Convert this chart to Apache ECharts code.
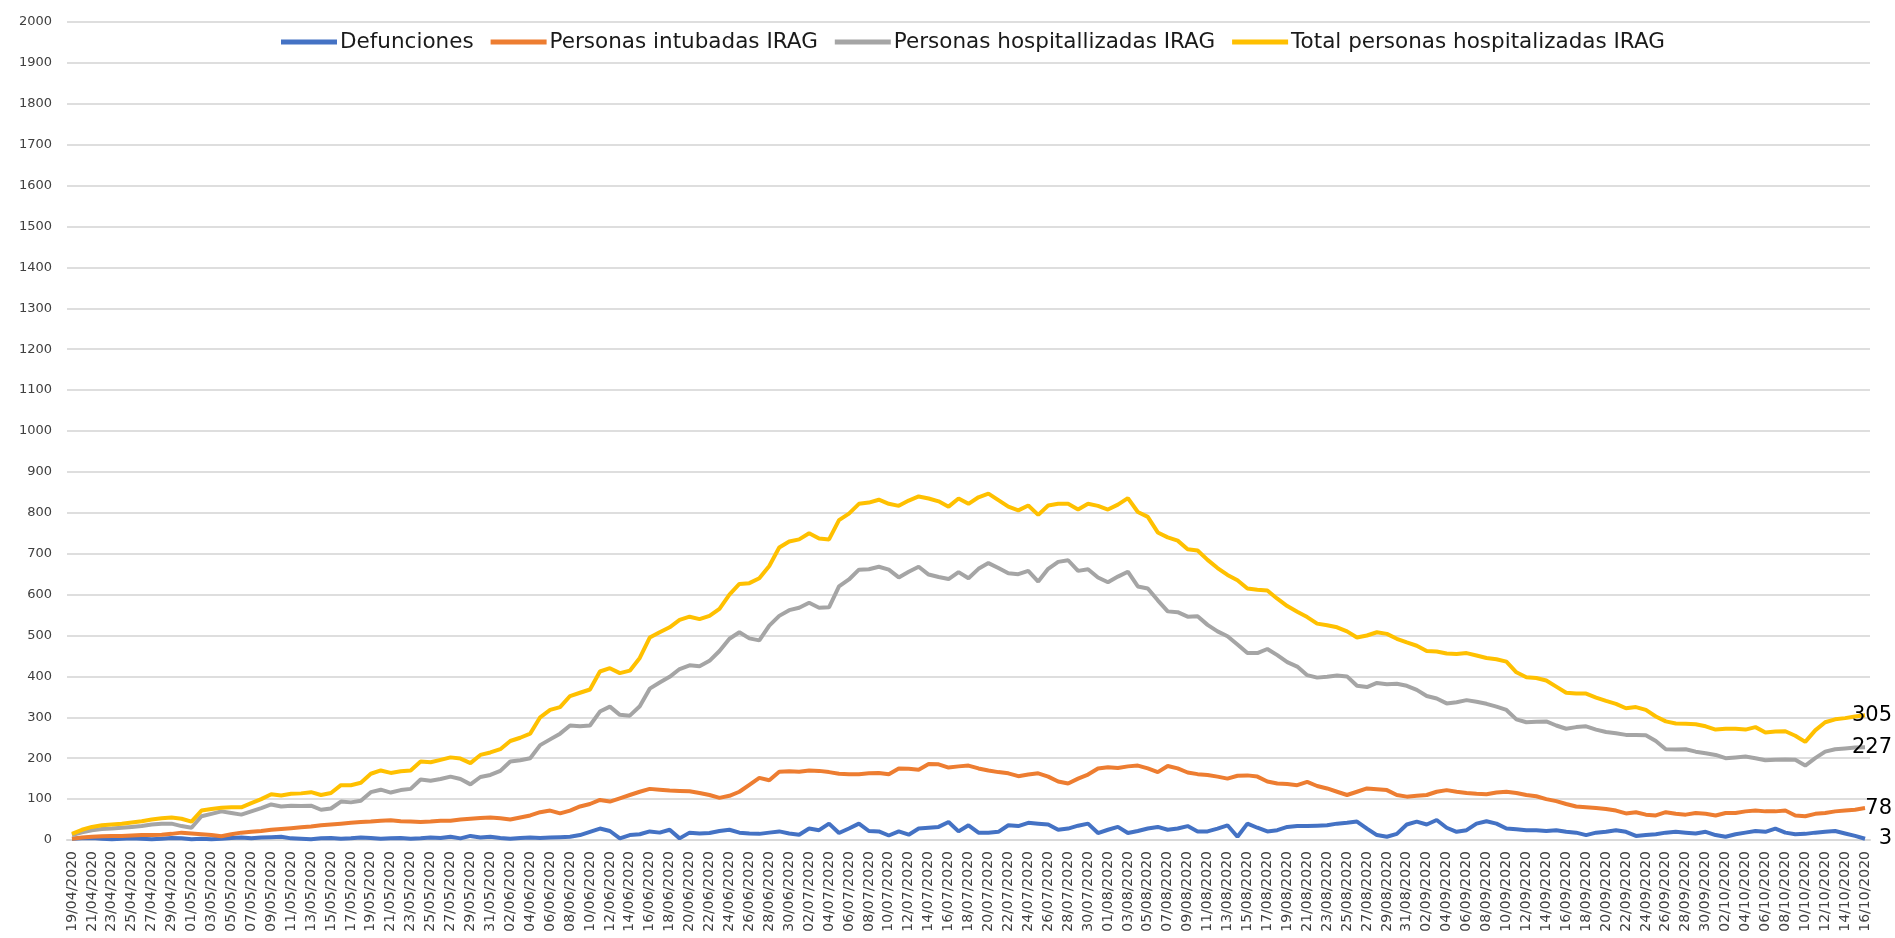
<!DOCTYPE html>
<html>
<head>
<meta charset="utf-8">
<script src="https://cdn.jsdelivr.net/npm/echarts@6/dist/echarts.min.js"></script>
<style>
  html, body { margin: 0; padding: 0; background: #fff; }
  #main { width: 1895px; height: 938px; }
</style>
</head>
<body>
<div id="main"></div>
<script>
const nombres = ['Defunciones', 'Personas intubadas IRAG', 'Personas hospitallizadas IRAG', 'Total personas hospitalizadas IRAG']
const colores = ['#4472C4', '#ED7D31', '#A5A5A5', '#FFC000']

const defunciones = [
  3, 4, 5, 3, 2, 3, 4, 3, 2, 3,
  5, 4, 2, 3, 2, 3, 5, 6, 4, 6,
  7, 8, 4, 3, 2, 4, 5, 3, 4, 6,
  5, 3, 4, 5, 3, 4, 6, 5, 8, 4,
  10, 6, 8, 5, 3, 5, 6, 5, 6, 7,
  8, 12, 20, 28, 22, 4, 12, 14, 21, 18,
  25, 4, 18, 16, 17, 22, 25, 18, 16, 15,
  18, 21, 16, 13, 28, 24, 40, 17, 28, 40,
  22, 21, 11, 21, 13, 28, 30, 32, 44, 21,
  36, 18, 18, 20, 36, 34, 42, 40, 38, 25,
  28, 35, 40, 17, 25, 32, 17, 22, 28, 32,
  25, 28, 34, 21, 21, 28, 36, 8, 40, 30,
  21, 24, 32, 34, 34, 35, 36, 40, 42, 45,
  28, 12, 8, 15, 38, 45, 38, 49, 30, 20,
  24, 40, 46, 40, 28, 26, 24, 24, 22, 24,
  20, 18, 12, 18, 20, 24, 20, 10, 12, 14,
  18, 20, 18, 16, 20, 12, 8, 14, 18, 22,
  20, 28, 18, 14, 15, 18, 20, 22, 16, 10, 3
]

const intubadas = [
  3, 6, 8, 9, 10, 10, 11, 12, 12, 13,
  15, 18, 16, 14, 12, 9, 14, 18, 20, 22,
  25, 27, 29, 31, 33, 36, 38, 40, 42, 44,
  45, 47, 48, 46, 45, 44, 45, 47, 47, 50,
  52, 54, 55, 53, 50, 55, 60, 68, 72, 65,
  72, 82, 88, 98, 94, 102, 110, 118, 125, 123,
  121, 120, 119, 115, 110, 103, 108, 118, 135, 152,
  146, 167, 168, 167, 170, 169, 166, 162, 161, 161,
  163, 164, 161, 175, 174, 172, 186, 185, 177, 180,
  182, 175, 170, 166, 163, 156, 160, 163, 155, 143,
  138, 150, 160, 175, 178, 176, 180, 182, 175, 166,
  181, 175, 165, 161, 159, 155, 150, 157, 158, 155,
  143, 138, 137, 134, 142, 132, 126, 118, 110, 118,
  126, 124, 122, 110, 106, 108, 110, 118, 122, 118,
  115, 113, 112, 116, 118, 115, 110, 107, 100, 95,
  88, 82, 80, 78, 76, 72, 65, 68, 62, 60,
  68, 64, 62, 66, 64, 60, 66, 66, 70, 72,
  70, 70, 72, 60, 58, 64, 66, 70, 72, 74, 78
]

const hospitalizadas = [
  12, 19, 24, 27, 28, 30, 32, 34, 38, 40,
  40, 34, 30, 58, 64, 70, 66, 62, 70, 78,
  87, 82, 84, 83, 84, 74, 77, 94, 92, 96,
  117, 123, 116, 122, 125, 148, 145, 149, 155, 149,
  136, 154, 159, 169, 192, 195, 200, 232, 246, 260,
  280, 278, 280, 314, 326, 306, 304, 327, 370, 385,
  399, 418, 427, 425, 438, 462, 492, 508, 493, 488,
  524, 548, 562, 568, 580, 568, 569, 620, 637, 661,
  662, 668, 661, 642, 656, 668, 649, 643, 638, 655,
  640, 663, 677, 665, 652, 650, 658, 632, 663, 680,
  684, 658, 662, 642, 630, 644, 656, 620, 615, 586,
  559, 557, 546, 547, 526, 510, 498, 478, 457, 457,
  467, 452, 435, 424, 403, 397, 399, 402, 400, 377,
  374, 384, 381, 382, 377, 367, 352, 346, 334, 337,
  342, 338, 333, 326, 318, 295, 288, 289, 290, 280,
  272, 276, 278, 270, 264, 261, 257, 257, 256, 242,
  222, 221, 222, 216, 212, 208, 200, 202, 204, 200,
  195, 196, 197, 196, 182, 200, 216, 222, 224, 226, 227
]

const totalHospitalizadas = [
  15, 25, 32, 36, 38, 40, 43, 46, 50, 53,
  55, 52, 45, 72, 76, 79, 80, 80, 90, 100,
  112, 109, 113, 114, 117, 110, 115, 134, 134, 140,
  162, 170, 164, 168, 170, 192, 190, 196, 202, 199,
  188, 208, 214, 222, 242, 250, 260, 300, 318, 325,
  352, 360, 368, 412, 420, 408, 414, 445, 495, 508,
  520, 538, 546, 540, 548, 565, 600, 626, 628, 640,
  670, 715, 730, 735, 750, 737, 735, 782, 798, 822,
  825, 832, 822, 817, 830, 840, 835, 828, 815, 835,
  822, 838, 847, 831, 815, 806, 818, 795, 818, 822,
  822, 808, 822, 817, 808, 820, 836, 802, 790, 752,
  740, 732, 711, 708, 685, 665, 648, 635, 615, 612,
  610, 590, 572, 558, 545, 529, 525, 520, 510, 495,
  500, 508, 504, 492, 483, 475, 462, 461, 456, 455,
  457, 451, 445, 442, 436, 410, 398, 396, 390, 375,
  360, 358, 358, 348, 340, 333, 322, 325, 318, 302,
  290, 285, 284, 283, 278, 270, 272, 272, 270, 276,
  263, 265, 266, 255, 240, 268, 288, 295, 298, 302, 305
]

// one category per day, from 19/04/2020
const fechas = []
const inicio = Date.UTC(2020, 3, 19)
for (let i = 0; i < totalHospitalizadas.length; i++) {
  const d = new Date(inicio + i * 86400000)
  const dd = String(d.getUTCDate()).padStart(2, '0')
  const mm = String(d.getUTCMonth() + 1).padStart(2, '0')
  fechas.push(dd + '/' + mm + '/' + d.getUTCFullYear())
}

const valores = [defunciones, intubadas, hospitalizadas, totalHospitalizadas]
const fuente = 'DejaVu Sans'

const myChart = echarts.init(document.getElementById('main'))
const option = {
  backgroundColor: '#fff',
  animation: false,
  color: colores,
  grid: { left: 67, right: 25, top: 22, bottom: 98 },
  legend: {
    left: 281,
    top: 31,
    padding: 0,
    icon: 'rect',
    itemWidth: 56,
    itemHeight: 5,
    itemGap: 17,
    textStyle: { fontFamily: fuente, fontSize: 21.5, color: '#1a1a1a', padding: [0, 0, 0, -2] },
    data: nombres
  },
  xAxis: {
    type: 'category',
    data: fechas,
    boundaryGap: true,
    axisLine: { lineStyle: { color: '#D9D9D9', width: 2 } },
    axisTick: { show: false },
    axisLabel: {
      interval: 1,
      rotate: 90,
      margin: 11,
      fontFamily: fuente,
      fontSize: 14,
      color: '#404040'
    }
  },
  yAxis: {
    type: 'value',
    min: 0,
    max: 2000,
    interval: 100,
    axisLine: { show: false },
    axisTick: { show: false },
    axisLabel: {
      margin: 15,
      fontFamily: fuente,
      fontSize: 13,
      color: '#404040',
      formatter: (v) => String(v)
    },
    splitLine: { lineStyle: { color: '#DEDEDE', width: 2 } }
  },
  series: nombres.map((nombre, k) => ({
    name: nombre,
    type: 'line',
    data: valores[k],
    showSymbol: false,
    lineStyle: { width: 4, color: colores[k] },
    itemStyle: { color: colores[k] },
    endLabel: {
      show: true,
      formatter: '{c}',
      align: 'right',
      distance: 27,
      fontFamily: fuente,
      fontSize: 21,
      color: '#000'
    }
  }))
}
option && myChart.setOption(option)
</script>
</body>
</html>
